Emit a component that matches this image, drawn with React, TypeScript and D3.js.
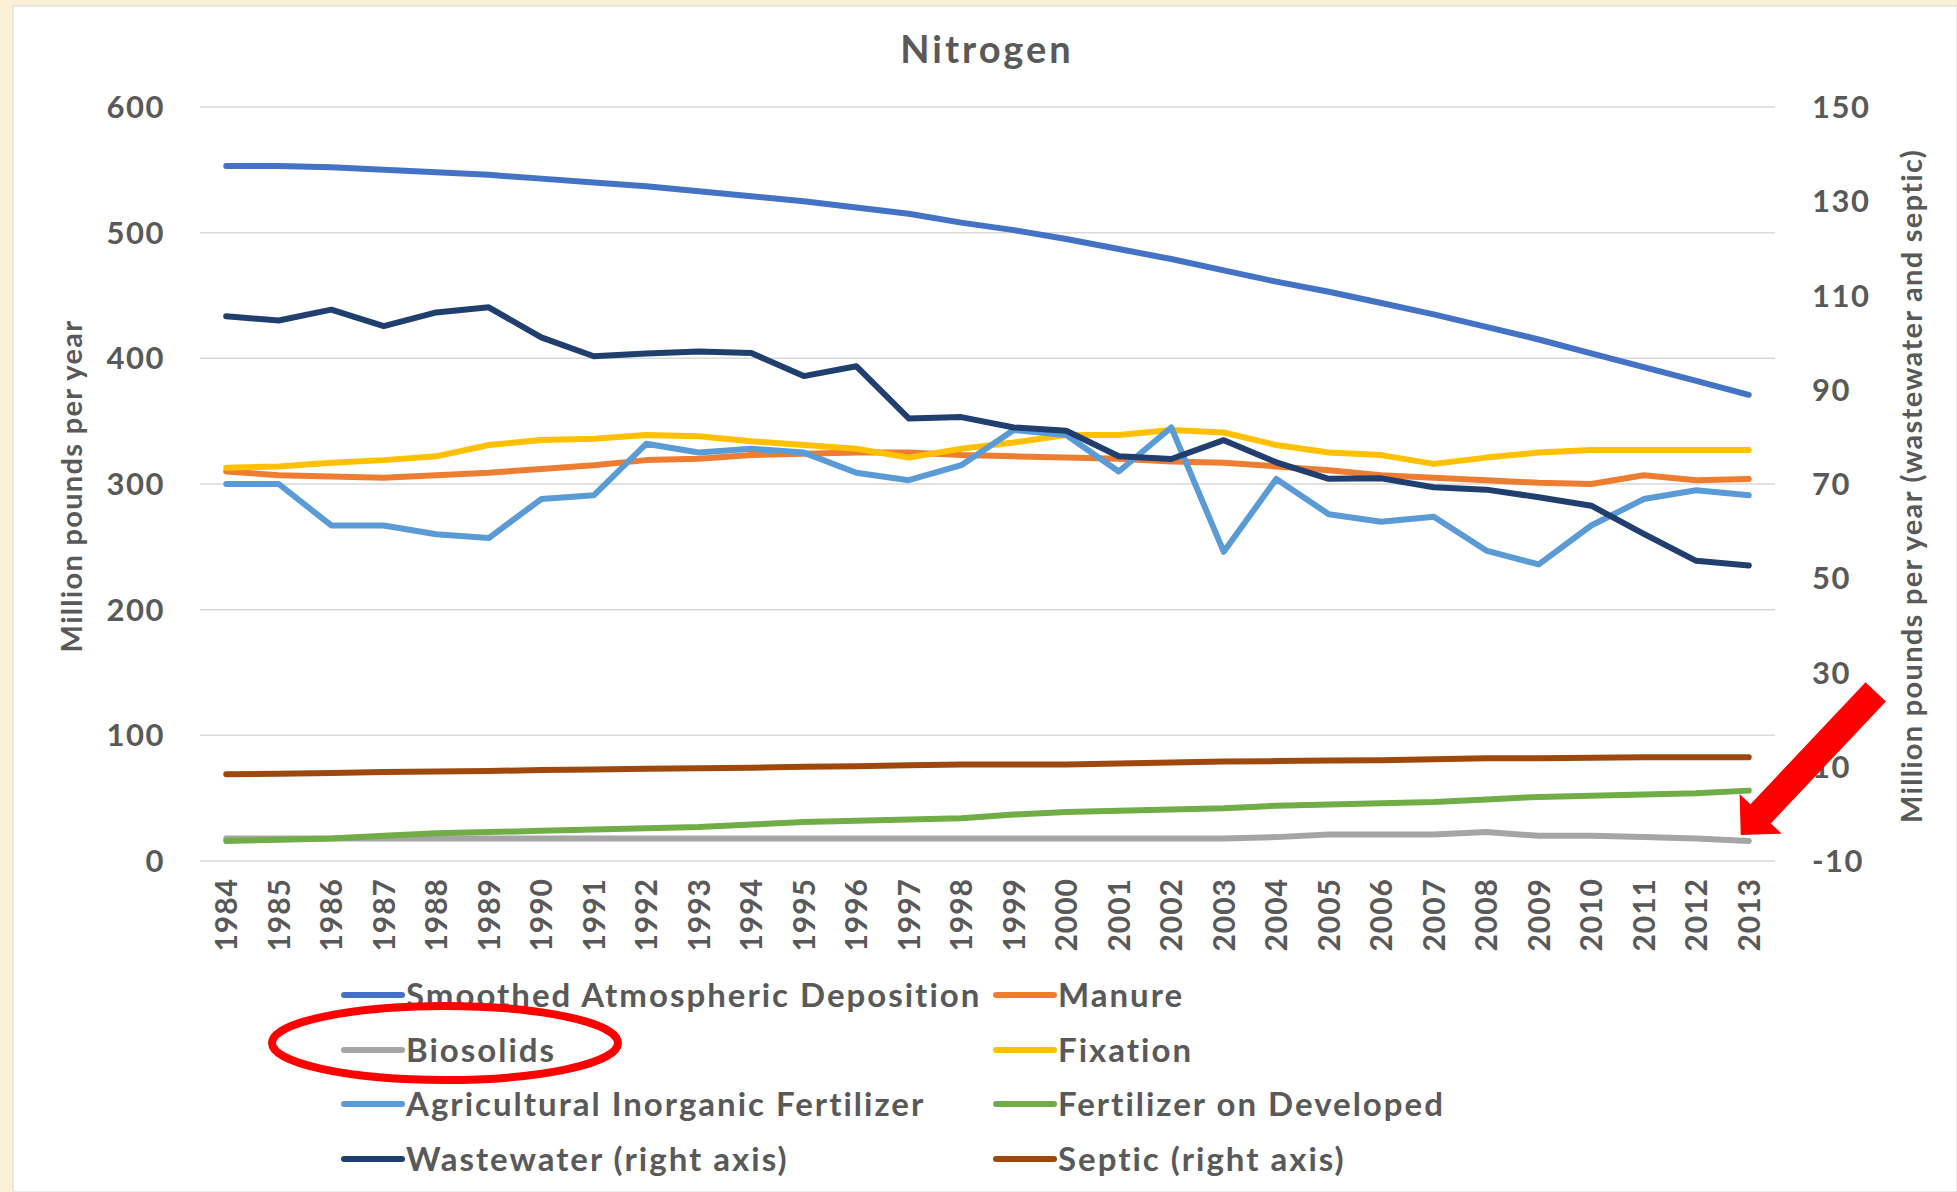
import React from "react";
import * as d3 from "d3";

// chart values
const years = [
  "1984", "1985", "1986", "1987", "1988", "1989", "1990", "1991", "1992", "1993",
  "1994", "1995", "1996", "1997", "1998", "1999", "2000", "2001", "2002", "2003",
  "2004", "2005", "2006", "2007", "2008", "2009", "2010", "2011", "2012", "2013",
];

// left axis (million pounds per year)
const atmospheric = [553, 553, 552, 550, 548, 546, 543, 540, 537, 533, 529, 525, 520, 515, 508, 502, 495, 487, 479, 470, 461, 453, 444, 435, 425, 415, 404, 393, 382, 371];
const manure = [310, 307, 306, 305, 307, 309, 312, 315, 319, 320, 323, 324, 325, 325, 323, 322, 321, 320, 318, 317, 314, 311, 307, 305, 303, 301, 300, 307, 303, 304];
const biosolids = [18, 18, 18, 18, 18, 18, 18, 18, 18, 18, 18, 18, 18, 18, 18, 18, 18, 18, 18, 18, 19, 21, 21, 21, 23, 20, 20, 19, 18, 16];
const fixation = [313, 314, 317, 319, 322, 331, 335, 336, 339, 338, 334, 331, 328, 321, 328, 333, 339, 339, 343, 341, 331, 325, 323, 316, 321, 325, 327, 327, 327, 327];
const agFertilizer = [300, 300, 267, 267, 260, 257, 288, 291, 332, 325, 328, 325, 309, 303, 315, 343, 339, 310, 345, 246, 304, 276, 270, 274, 247, 236, 267, 288, 295, 291];
const fertDeveloped = [16, 17, 18, 20, 22, 23, 24, 25, 26, 27, 29, 31, 32, 33, 34, 37, 39, 40, 41, 42, 44, 45, 46, 47, 49, 51, 52, 53, 54, 56];

// right axis (wastewater and septic)
const wastewater = [105.6, 104.7, 107.0, 103.5, 106.4, 107.5, 101.1, 97.1, 97.7, 98.1, 97.8, 92.9, 95.0, 83.9, 84.2, 82.0, 81.3, 75.9, 75.3, 79.3, 74.6, 71.1, 71.2, 69.3, 68.8, 67.2, 65.4, 59.4, 53.7, 52.7];
const septic = [8.4, 8.5, 8.7, 8.9, 9.0, 9.1, 9.3, 9.4, 9.6, 9.7, 9.8, 10.0, 10.1, 10.3, 10.5, 10.5, 10.5, 10.7, 10.9, 11.1, 11.2, 11.3, 11.4, 11.6, 11.8, 11.8, 11.9, 12.0, 12.0, 12.0];

const leftTicks = [0, 100, 200, 300, 400, 500, 600];
const rightTicks = [-10, 10, 30, 50, 70, 90, 110, 130, 150];

const series = [
  { name: "Smoothed Atmospheric Deposition", values: atmospheric, color: "#4472C4", axis: "left" },
  { name: "Manure", values: manure, color: "#ED7D31", axis: "left" },
  { name: "Biosolids", values: biosolids, color: "#A5A5A5", axis: "left" },
  { name: "Fixation", values: fixation, color: "#FFC000", axis: "left" },
  { name: "Agricultural Inorganic Fertilizer", values: agFertilizer, color: "#5B9BD5", axis: "left" },
  { name: "Fertilizer on Developed", values: fertDeveloped, color: "#70AD47", axis: "left" },
  { name: "Wastewater (right axis)", values: wastewater, color: "#203F6E", axis: "right" },
  { name: "Septic (right axis)", values: septic, color: "#9E480E", axis: "right" },
];

const W = 1957;
const H = 1192;
const margin = { left: 200, right: 182, top: 107, bottom: 331 };
const textColor = "#595959";
const font = "Lato, 'Open Sans', sans-serif";

export default function App() {
  const x = d3
    .scaleBand()
    .domain(years)
    .range([margin.left, W - margin.right])
    .padding(0);
  const cx = (yr: string) => (x(yr) as number) + x.bandwidth() / 2;
  const yLeft = d3.scaleLinear().domain([0, 600]).range([H - margin.bottom, margin.top]);
  const yRight = d3.scaleLinear().domain([-10, 150]).range([H - margin.bottom, margin.top]);

  const lineFor = (axis: string) =>
    d3
      .line<number>()
      .x((_, i) => cx(years[i]))
      .y((v) => (axis === "left" ? yLeft(v) : yRight(v)));

  // legend: two columns, row-major like Excel
  const legendCols = [344, 996];
  const legendRows = [995, 1050, 1104, 1159];

  // annotation anchored to the Biosolids legend entry and its last point
  const bioIdx = series.findIndex((s) => s.name === "Biosolids");
  const bioLegendX = legendCols[bioIdx % 2];
  const bioLegendY = legendRows[Math.floor(bioIdx / 2)];
  const ellipse = { cx: bioLegendX + 101, cy: bioLegendY - 7, rx: 173, ry: 37 };

  const lastYear = years[years.length - 1];
  const tip = { x: cx(lastYear) - 8, y: yLeft(biosolids[biosolids.length - 1]) - 6 };
  const tail = { x: tip.x + 135, y: tip.y - 143 };
  const arrowLen = Math.hypot(tail.x - tip.x, tail.y - tip.y);
  const arrowAngle = (Math.atan2(tip.y - tail.y, tip.x - tail.x) * 180) / Math.PI;
  const shaftHalf = 14;
  const headLen = 29;
  const headHalf = 29;
  const arrowPts = [
    [0, -shaftHalf],
    [arrowLen - headLen, -shaftHalf],
    [arrowLen - headLen, -headHalf],
    [arrowLen, 0],
    [arrowLen - headLen, headHalf],
    [arrowLen - headLen, shaftHalf],
    [0, shaftHalf],
  ]
    .map((p) => p.join(","))
    .join(" ");

  const plotLeft = margin.left;
  const plotRight = W - margin.right;

  return (
    <svg
      width={W}
      height={H}
      style={{ position: "absolute", left: 0, top: 0, fontFamily: font }}
    >
      <rect x={0} y={0} width={W} height={H} fill="#FBEFD6" />
      <rect x={13} y={6} width={W - 13} height={H - 6} fill="#FFFFFF" stroke="#E2E2E2" strokeWidth={1.5} />

      {/* title */}
      <text x={987} y={63} textAnchor="middle" fontSize={38} fontWeight="bold" fill={textColor} letterSpacing={3}>
        Nitrogen
      </text>

      {/* gridlines + left ticks */}
      {leftTicks.map((t) => (
        <g key={"l" + t}>
          <line x1={plotLeft} x2={plotRight} y1={yLeft(t)} y2={yLeft(t)} stroke="#D9D9D9" strokeWidth={1.5} />
          <text x={165} y={yLeft(t)} dy="0.36em" textAnchor="end" fontSize={31} fontWeight="bold" fill={textColor} letterSpacing={1.5}>
            {t}
          </text>
        </g>
      ))}

      {/* right ticks */}
      {rightTicks.map((t) => (
        <text key={"r" + t} x={1812} y={yRight(t)} dy="0.36em" textAnchor="start" fontSize={31} fontWeight="bold" fill={textColor} letterSpacing={1.5}>
          {t}
        </text>
      ))}

      {/* x tick labels */}
      {years.map((yr) => (
        <text
          key={yr}
          transform={`translate(${cx(yr)},${878}) rotate(-90)`}
          dy="0.36em"
          textAnchor="end"
          fontSize={30}
          fontWeight="bold"
          fill={textColor}
          letterSpacing={1}
        >
          {yr}
        </text>
      ))}

      {/* axis titles */}
      <text transform="translate(72,486) rotate(-90)" dy="0.36em" textAnchor="middle" fontSize={29} fontWeight="bold" fill={textColor} letterSpacing={1.3}>
        Million pounds per year
      </text>
      <text transform="translate(1912,486) rotate(-90)" dy="0.36em" textAnchor="middle" fontSize={29} fontWeight="bold" fill={textColor} letterSpacing={1.3}>
        Million pounds per year (wastewater and septic)
      </text>

      {/* series */}
      {series.map((s) => (
        <path
          key={s.name}
          d={lineFor(s.axis)(s.values) || ""}
          fill="none"
          stroke={s.color}
          strokeWidth={6}
          strokeLinejoin="round"
          strokeLinecap="round"
        />
      ))}

      {/* legend */}
      {series.map((s, i) => {
        const lx = legendCols[i % 2];
        const ly = legendRows[Math.floor(i / 2)];
        return (
          <g key={"lg" + s.name}>
            <line x1={lx} x2={lx + 58} y1={ly} y2={ly} stroke={s.color} strokeWidth={6} strokeLinecap="round" />
            <text x={lx + 62} y={ly} dy="0.36em" fontSize={33} fontWeight="bold" fill={textColor} letterSpacing={2}>
              {s.name}
            </text>
          </g>
        );
      })}

      {/* red annotations */}
      <ellipse cx={ellipse.cx} cy={ellipse.cy} rx={ellipse.rx} ry={ellipse.ry} fill="none" stroke="#FF0000" strokeWidth={8} />
      <polygon points={arrowPts} fill="#FF0000" transform={`translate(${tail.x},${tail.y}) rotate(${arrowAngle})`} />
    </svg>
  );
}
